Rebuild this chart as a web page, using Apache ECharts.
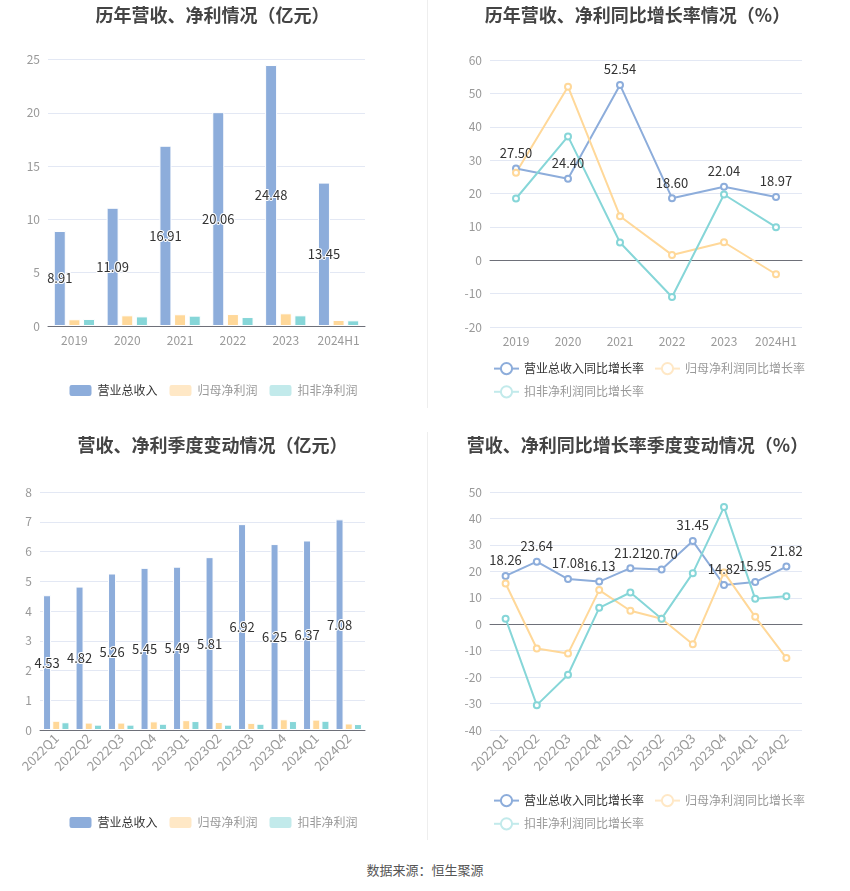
<!DOCTYPE html>
<html><head><meta charset="utf-8">
<script src="https://cdn.jsdelivr.net/npm/echarts@6/dist/echarts.min.js"></script>
<style>
html,body{margin:0;padding:0;background:#fff;width:850px;height:891px;overflow:hidden;font-family:"Noto Sans CJK SC",sans-serif;}
.c{position:absolute;width:425px;height:425px;}
.vl{position:absolute;left:427px;width:1px;background:#eeeeee;}
#foot{position:absolute;top:860px;left:0;width:850px;text-align:center;font-size:13px;color:#555;}
</style></head><body>
<div id="c1" class="c" style="left:0;top:0"></div>
<div id="c2" class="c" style="left:425px;top:0"></div>
<div id="c3" class="c" style="left:0;top:425px"></div>
<div id="c4" class="c" style="left:425px;top:425px"></div>
<div class="vl" style="top:0;height:408px"></div>
<div class="vl" style="top:432px;height:408px"></div>
<div id="foot">数据来源：恒生聚源</div>
<script>
const yearCats = ['2019','2020','2021','2022','2023','2024H1'];
const yearRevenue = [8.91, 11.09, 16.91, 20.06, 24.48, 13.45];
const yearNetProfit = [0.63, 1.00, 1.10, 1.12, 1.19, 0.56];
const yearDeductedProfit = [0.66, 0.90, 0.97, 0.84, 1.00, 0.53];

const yearRevenueGrowth = [27.50, 24.40, 52.54, 18.60, 22.04, 18.97];
const yearNetGrowth = [26.2, 52.0, 13.2, 1.6, 5.4, -4.2];
const yearDeductedGrowth = [18.5, 37.1, 5.3, -11.0, 19.7, 9.9];

const quarterCats = ['2022Q1','2022Q2','2022Q3','2022Q4','2023Q1','2023Q2','2023Q3','2023Q4','2024Q1','2024Q2'];
const quarterRevenue = [4.53, 4.82, 5.26, 5.45, 5.49, 5.81, 6.92, 6.25, 6.37, 7.08];
const quarterNetProfit = [0.31, 0.25, 0.25, 0.29, 0.33, 0.27, 0.24, 0.36, 0.35, 0.22];
const quarterDeductedProfit = [0.26, 0.18, 0.18, 0.21, 0.30, 0.18, 0.21, 0.30, 0.31, 0.20];

const quarterRevenueGrowth = [18.26, 23.64, 17.08, 16.13, 21.21, 20.70, 31.45, 14.82, 15.95, 21.82];
const quarterNetGrowth = [15.4, -9.2, -11.1, 12.9, 5.1, 2.1, -7.6, 19.6, 2.8, -12.8];
const quarterDeductedGrowth = [2.1, -30.6, -19.1, 6.2, 12.0, 2.1, 19.3, 44.3, 9.6, 10.6];

const FONT = '"Noto Sans CJK SC", sans-serif';
const C_REV = '#8DADDB', C_NET = '#FFD899', C_KF = '#86D6D8';
const C_NET_L = '#FFE8C6', C_KF_L = '#C2EAEB';

function title(text, top){
  return {text, left:'center', top, textStyle:{fontSize:18, fontWeight:'bold', color:'#444', fontFamily:FONT}};
}
function yAxis(min,max,interval){
  return {type:'value', min, max, interval,
    axisLabel:{color:'#999', fontSize:12, fontFamily:FONT},
    axisLine:{show:false}, axisTick:{show:false},
    splitLine:{lineStyle:{color:'#E3E8F4'}}};
}
function xAxis(cats, rotate){
  return {type:'category', data:cats,
    axisLine:{onZero:true, lineStyle:{color:'#6E7079'}},
    axisTick:{alignWithLabel:true, lineStyle:{color:'#6E7079'}},
    axisLabel:{color:'#999', fontSize:rotate?13:12, fontFamily:FONT, rotate:rotate||0, margin:rotate?6:8, interval:0}};
}
function barLegend(top, names){
  return {top, left:'center', itemWidth:24, itemHeight:13, itemGap:10, icon:'roundRect',
    textStyle:{fontSize:12, fontFamily:FONT},
    data:[
      {name:names[0], itemStyle:{color:C_REV}, textStyle:{color:'#333'}},
      {name:names[1], itemStyle:{color:C_NET_L}, textStyle:{color:'#999'}},
      {name:names[2], itemStyle:{color:C_KF_L}, textStyle:{color:'#999'}}
    ]};
}
function lineLegend(top, names){
  return {top, left:63, width:330, itemWidth:25, itemHeight:14, itemGap:10,
    textStyle:{fontSize:12, fontFamily:FONT},
    data:[
      {name:names[0], textStyle:{color:'#333'}},
      {name:names[1], itemStyle:{color:C_NET_L, borderColor:C_NET_L}, lineStyle:{color:C_NET_L}, textStyle:{color:'#999'}},
      {name:names[2], itemStyle:{color:C_KF_L, borderColor:C_KF_L}, lineStyle:{color:C_KF_L}, textStyle:{color:'#999'}}
    ]};
}
function bars(names, a, b, c, bw, gap){
  const base = {type:'bar', barWidth:bw, barGap:gap};
  return [
    Object.assign({}, base, {name:names[0], data:a, itemStyle:{color:C_REV, borderColor:'#fff', borderWidth:1},
      label:{show:true, position:'inside', color:'#333', fontSize:13, fontFamily:FONT, textBorderColor:'#fff', textBorderWidth:2,
        formatter:p=>p.value.toFixed(2)}}),
    Object.assign({}, base, {name:names[1], data:b, itemStyle:{color:C_NET, borderColor:'#fff', borderWidth:1}}),
    Object.assign({}, base, {name:names[2], data:c, itemStyle:{color:C_KF, borderColor:'#fff', borderWidth:1}})
  ];
}
function lines(names, a, b, c){
  const base = {type:'line', symbol:'emptyCircle', symbolSize:6};
  return [
    Object.assign({}, base, {name:names[0], data:a, itemStyle:{color:C_REV}, lineStyle:{width:2,color:C_REV}, z:3,
      label:{show:true, position:'top', color:'#333', fontSize:13, fontFamily:FONT, formatter:p=>p.value.toFixed(2)}}),
    Object.assign({}, base, {name:names[1], data:b, itemStyle:{color:C_NET}, lineStyle:{width:2,color:C_NET}}),
    Object.assign({}, base, {name:names[2], data:c, itemStyle:{color:C_KF}, lineStyle:{width:2,color:C_KF}})
  ];
}
const barNames = ['营业总收入','归母净利润','扣非净利润'];
const lineNames = ['营业总收入同比增长率','归母净利润同比增长率','扣非净利润同比增长率'];

const c1 = echarts.init(document.getElementById('c1'));
c1.setOption({animation:false,
  title:title('历年营收、净利情况（亿元）', 1),
  grid:{left:48, top:59.5, width:317, height:266.5},
  legend:barLegend(378, barNames),
  xAxis:xAxis(yearCats), yAxis:yAxis(0,25,5),
  series:bars(barNames, yearRevenue, yearNetProfit, yearDeductedProfit, 12, '22%')});

const c2 = echarts.init(document.getElementById('c2'));
c2.setOption({animation:false,
  title:title('历年营收、净利同比增长率情况（%）', 1),
  grid:{left:65, top:60, width:312, height:267},
  legend:lineLegend(357, lineNames),
  xAxis:xAxis(yearCats), yAxis:yAxis(-20,60,10),
  series:lines(lineNames, yearRevenueGrowth, yearNetGrowth, yearDeductedGrowth)});

const c3 = echarts.init(document.getElementById('c3'));
c3.setOption({animation:false,
  title:title('营收、净利季度变动情况（亿元）', 6),
  grid:{left:40, top:67, width:325, height:238},
  legend:barLegend(385, barNames),
  xAxis:xAxis(quarterCats, 45), yAxis:yAxis(0,8,1),
  series:bars(barNames, quarterRevenue, quarterNetProfit, quarterDeductedProfit, 8, '15%')});

const c4 = echarts.init(document.getElementById('c4'));
c4.setOption({animation:false,
  title:title('营收、净利同比增长率季度变动情况（%）', 6),
  grid:{left:65, top:67, width:312, height:238},
  legend:lineLegend(364, lineNames),
  xAxis:xAxis(quarterCats, 45), yAxis:yAxis(-40,50,10),
  series:lines(lineNames, quarterRevenueGrowth, quarterNetGrowth, quarterDeductedGrowth)});
</script>
</body></html>
